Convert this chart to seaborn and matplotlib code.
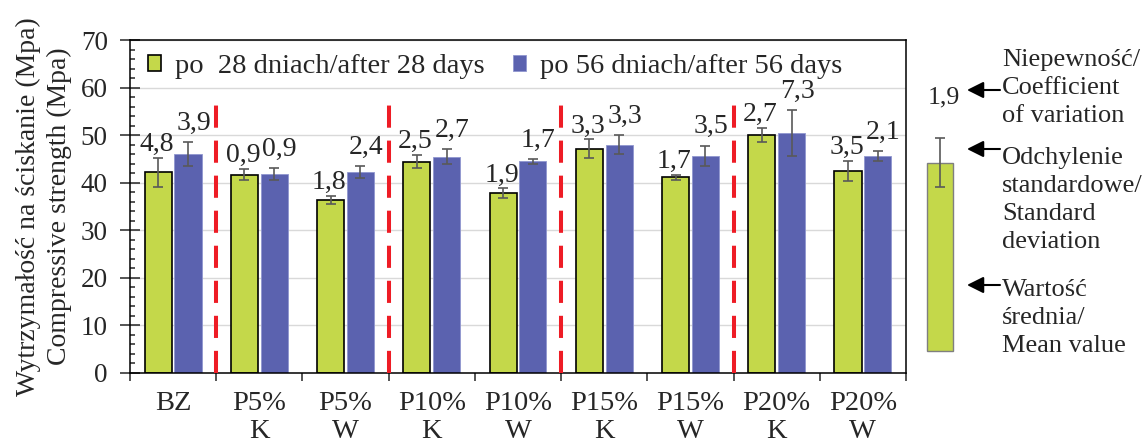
import pandas as pd
import matplotlib.pyplot as plt
import seaborn as sns
from matplotlib.patches import FancyArrowPatch
from matplotlib.ticker import MultipleLocator, FixedLocator

# Dane
categories = ['BZ', 'P5%\nK', 'P5%\nW', 'P10%\nK', 'P10%\nW',
              'P15%\nK', 'P15%\nW', 'P20%\nK', 'P20%\nW']
series = ['po  28 dniach/after 28 days', 'po 56 dniach/after 56 days']
mean_28 = [42.2, 41.7, 36.4, 44.4, 37.8, 47.1, 41.1, 50.0, 42.4]
mean_56 = [46.0, 41.8, 42.2, 45.5, 44.5, 48.0, 45.7, 50.4, 45.6]
std_28 = [3.1, 1.2, 0.9, 1.4, 1.0, 2.0, 0.6, 1.5, 2.1]
std_56 = [2.5, 1.3, 1.3, 1.5, 0.5, 2.0, 2.1, 4.8, 1.0]
cv_28 = ['4,8', '0,9', '1,8', '2,5', '1,9', '3,3', '1,7', '2,7', '3,5']
cv_56 = ['3,9', '0,9', '2,4', '2,7', '1,7', '3,3', '3,5', '7,3', '2,1']
divider_top = 58

# Objaśnienie po prawej stronie
key_bottom = 4.6
key_mean = 44.2
key_std = 5.1
key_cv = '1,9'
key_texts = ['Niepewność/\nCoefficient\nof variation',
             'Odchylenie\nstandardowe/\nStandard\ndeviation',
             'Wartość\nśrednia/\nMean value']

green = '#C4D84A'
blue = '#5B62AF'
W, H = 1145, 442

df = pd.DataFrame({
    'Grupa': categories * 2,
    'Seria': [series[0]] * len(categories) + [series[1]] * len(categories),
    'Wytrzymalosc': mean_28 + mean_56,
})

sns.set_style('white')
plt.rcParams['font.family'] = ['Liberation Serif', 'DejaVu Serif']


def px(x, y):
    return x / W, 1 - y / H


fig = plt.figure(figsize=(W / 100, H / 100), dpi=100)
ax = fig.add_axes([130 / W, (H - 373) / H, 776 / W, 333 / H])

sns.barplot(data=df, x='Grupa', y='Wytrzymalosc', hue='Seria', palette=[green, blue],
            saturation=1, width=0.69, gap=0.09, errorbar=None, legend=False, ax=ax, zorder=2)

for bar in ax.containers[0]:
    bar.set_edgecolor('black')
    bar.set_linewidth(1.2)
for bar in ax.containers[1]:
    bar.set_edgecolor('#9096CF')
    bar.set_linewidth(0.6)

# Słupki błędów i etykiety współczynnika zmienności
for cont, std, cv, dx, dy in zip(ax.containers, [std_28, std_56], [cv_28, cv_56], [-1, 4], [5, 9]):
    xs = [p.get_x() + p.get_width() / 2 for p in cont]
    hs = [p.get_height() for p in cont]
    ax.errorbar(xs, hs, yerr=std, fmt='none', ecolor='#595959', elinewidth=1.2,
                capsize=3.5, capthick=1.2, zorder=3)
    for x, h, s, lab in zip(xs, hs, std, cv):
        ax.annotate(lab, (x, h + s), xytext=(dx, dy), textcoords='offset points',
                    ha='center', va='baseline', fontsize=20)

# Czerwone linie rozdzielające grupy
dividers = [i + 0.5 for i, c in enumerate(categories[:-1]) if c == 'BZ' or c.endswith('W')]
ax.vlines(dividers, 0, divider_top, colors='#EE1C25', lw=2.9,
          linestyles=(0, (5.5, 3.2)), zorder=4)

ax.set_ylim(0, 70)
ax.set_xlim(-0.5, len(categories) - 0.5)
ax.yaxis.set_major_locator(MultipleLocator(10))
ax.yaxis.set_minor_locator(MultipleLocator(2))
ax.grid(axis='y', color='#D9D9D9', lw=1, zorder=0)
ax.set_axisbelow(True)
ax.tick_params(axis='y', which='major', direction='inout', length=14, width=1.1,
               labelsize=19.5, pad=9, left=True)
ax.tick_params(axis='y', which='minor', direction='in', length=3.6, width=1.1, left=True)
ax.xaxis.set_minor_locator(FixedLocator([i - 0.5 for i in range(len(categories) + 1)]))
ax.tick_params(axis='x', which='minor', direction='out', length=6, width=1.1, bottom=True)
ax.tick_params(axis='x', which='major', length=0, labelsize=20.5, pad=13)
for t in ax.get_xticklabels():
    t.set_linespacing(1.15)
for sp in ax.spines.values():
    sp.set_visible(True)
    sp.set_color('black')
    sp.set_linewidth(1.1)

ax.set_xlabel('')
ax.set_ylabel('Wytrzymałość na ściskanie (Mpa)\nCompressive strength (Mpa)',
              fontsize=20, linespacing=1.3, labelpad=6)

ax.legend(handles=[ax.containers[0][0], ax.containers[1][0]], labels=series,
          loc='upper left', ncol=2, frameon=False, fontsize=20.5, handlelength=0.45,
          handleheight=0.45, handletextpad=0.5, columnspacing=1.0,
          borderaxespad=0.1, bbox_to_anchor=(0.005, 1.0))

# Objaśnienie: słupek wzorcowy
key_ax = fig.add_axes([900 / W, (H - 373) / H, 80 / W, 333 / H])
key_ax.bar([0.5], [key_mean - key_bottom], bottom=key_bottom, width=0.325,
           color=green, edgecolor='#7F7F7F', lw=1.0)
key_ax.errorbar([0.5], [key_mean], yerr=[key_std], fmt='none', ecolor='#595959',
                elinewidth=1.2, capsize=3.5, capthick=1.2)
key_ax.set_xlim(0, 1)
key_ax.set_ylim(0, 70)
key_ax.axis('off')

fig.text(*px(944, 103), key_cv, ha='center', va='baseline', fontsize=18.5)
for y in [90, 149, 285]:
    fig.add_artist(FancyArrowPatch(
        px(1000, y), px(967, y), transform=fig.transFigure, arrowstyle='-|>',
        color='black', lw=1.5, mutation_scale=25, shrinkA=0, shrinkB=0))
# va='baseline' wyrównuje do linii bazowej ostatniego wiersza
for txt, y in zip(key_texts, [122, 248, 352]):
    fig.text(*px(1002, y), txt, ha='left', va='baseline', fontsize=19, linespacing=1.35)

fig.savefig('out.png', dpi=100)
